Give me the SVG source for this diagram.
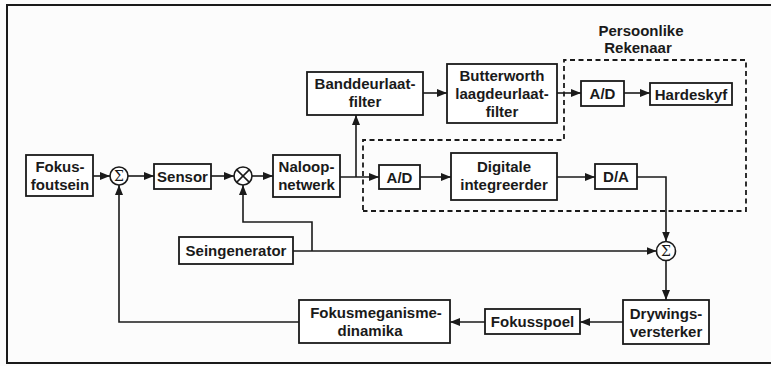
<svg xmlns="http://www.w3.org/2000/svg" width="771" height="366" viewBox="0 0 771 366">
<style>
  .box{fill:#fff;stroke:#1a1a1a;stroke-width:1.8}
  .t{font-family:"Liberation Sans",Arial,sans-serif;font-weight:bold;font-size:15px;fill:#1a1a1a;text-anchor:middle}
  .w{fill:none;stroke:#1a1a1a;stroke-width:1.6}
  .dash{fill:none;stroke:#1a1a1a;stroke-width:1.8;stroke-dasharray:5 3.5}
  .sum{fill:#fff;stroke:#1a1a1a;stroke-width:1.6}
  .sig{font-family:"DejaVu Serif","Liberation Serif",serif;font-size:14px;fill:#1a1a1a;text-anchor:middle}
</style>
<defs>
  <marker id="ah" markerUnits="userSpaceOnUse" markerWidth="10" markerHeight="8" refX="10" refY="4" orient="auto">
    <path d="M0,0 L10,4 L0,8 z" fill="#1a1a1a"/>
  </marker>
</defs>
<rect x="0" y="0" width="771" height="366" fill="#fcfcfc"/>
<rect x="7" y="5" width="790" height="358" fill="none" stroke="#1a1a1a" stroke-width="2"/>

<g id="pc-region">
  <path class="dash" d="M363,210 L363,140 L564,140 L564,60 L746,60 L746,211 L363,211"/>
  <text class="t" x="641" y="36">Persoonlike</text>
  <text class="t" x="638" y="53">Rekenaar</text>
</g>

<g id="connectors">
  <line class="w" x1="93" y1="176" x2="110" y2="176" marker-end="url(#ah)"/>
  <line class="w" x1="128" y1="176" x2="154" y2="176" marker-end="url(#ah)"/>
  <line class="w" x1="211" y1="176" x2="234" y2="176" marker-end="url(#ah)"/>
  <line class="w" x1="252" y1="176" x2="273" y2="176" marker-end="url(#ah)"/>
  <line class="w" x1="340" y1="177" x2="379" y2="177" marker-end="url(#ah)"/>
  <polyline class="w" points="356,177 356,115" marker-end="url(#ah)"/>
  <line class="w" x1="423" y1="93" x2="447" y2="93" marker-end="url(#ah)"/>
  <line class="w" x1="557" y1="93" x2="581" y2="93" marker-end="url(#ah)"/>
  <line class="w" x1="624" y1="93" x2="650" y2="93" marker-end="url(#ah)"/>
  <line class="w" x1="420" y1="177" x2="451" y2="177" marker-end="url(#ah)"/>
  <line class="w" x1="557" y1="177" x2="595" y2="177" marker-end="url(#ah)"/>
  <polyline class="w" points="637,177 666,177 666,241.5" marker-end="url(#ah)"/>
  <line class="w" x1="293" y1="251" x2="656.5" y2="251" marker-end="url(#ah)"/>
  <polyline class="w" points="312,251 312,222 243,222 243,185" marker-end="url(#ah)"/>
  <line class="w" x1="666" y1="260.5" x2="666" y2="300" marker-end="url(#ah)"/>
  <line class="w" x1="623" y1="322" x2="580" y2="322" marker-end="url(#ah)"/>
  <line class="w" x1="485" y1="322" x2="450" y2="322" marker-end="url(#ah)"/>
  <polyline class="w" points="299,322 119,322 119,185" marker-end="url(#ah)"/>
</g>

<g id="fokusfoutsein">
  <rect class="box" x="26" y="155" width="67" height="41"/>
  <text class="t" x="60" y="172">Fokus-</text>
  <text class="t" x="60" y="190">foutsein</text>
</g>
<g id="sum1">
  <circle class="sum" cx="119" cy="176" r="9"/>
  <text class="sig" x="119" y="181">Σ</text>
</g>
<g id="sensor">
  <rect class="box" x="154" y="164" width="57" height="25"/>
  <text class="t" x="182.5" y="182">Sensor</text>
</g>
<g id="mult">
  <circle class="sum" cx="243" cy="176" r="9"/>
  <path d="M236.6,169.6 L249.4,182.4 M249.4,169.6 L236.6,182.4" stroke="#1a1a1a" stroke-width="1.5"/>
</g>
<g id="naloopnetwerk">
  <rect class="box" x="273" y="155" width="67" height="42"/>
  <text class="t" x="306.5" y="172">Naloop-</text>
  <text class="t" x="306.5" y="190">netwerk</text>
</g>
<g id="banddeurlaatfilter">
  <rect class="box" x="307" y="72" width="116" height="43"/>
  <text class="t" x="365" y="89">Banddeurlaat-</text>
  <text class="t" x="365" y="107">filter</text>
</g>
<g id="butterworth">
  <rect class="box" x="447" y="64" width="110" height="59"/>
  <text class="t" x="502" y="81">Butterworth</text>
  <text class="t" x="502" y="99">laagdeurlaat-</text>
  <text class="t" x="502" y="117">filter</text>
</g>
<g id="ad-top">
  <rect class="box" x="581" y="81" width="43" height="25"/>
  <text class="t" x="602.5" y="99">A/D</text>
</g>
<g id="hardeskyf">
  <rect class="box" x="650" y="83" width="82" height="22"/>
  <text class="t" x="691" y="99.5">Hardeskyf</text>
</g>
<g id="ad-low">
  <rect class="box" x="379" y="165" width="41" height="24"/>
  <text class="t" x="399.5" y="182.5">A/D</text>
</g>
<g id="digitale">
  <rect class="box" x="451" y="153" width="106" height="47"/>
  <text class="t" x="504" y="172">Digitale</text>
  <text class="t" x="504" y="190">integreerder</text>
</g>
<g id="da">
  <rect class="box" x="595" y="164" width="42" height="25"/>
  <text class="t" x="616" y="182">D/A</text>
</g>
<g id="seingenerator">
  <rect class="box" x="179" y="237" width="114" height="27"/>
  <text class="t" x="236" y="256">Seingenerator</text>
</g>
<g id="sum2">
  <circle class="sum" cx="666" cy="251" r="9.5"/>
  <text class="sig" x="666" y="256">Σ</text>
</g>
<g id="drywingsversterker">
  <rect class="box" x="623" y="300" width="86" height="44"/>
  <text class="t" x="666" y="319">Drywings-</text>
  <text class="t" x="666" y="337">versterker</text>
</g>
<g id="fokusspoel">
  <rect class="box" x="485" y="309" width="95" height="25"/>
  <text class="t" x="532.5" y="327">Fokusspoel</text>
</g>
<g id="fokusmeganisme">
  <rect class="box" x="299" y="300" width="151" height="43"/>
  <text class="t" x="376" y="318">Fokusmeganisme-</text>
  <text class="t" x="370" y="336">dinamika</text>
</g>
</svg>
